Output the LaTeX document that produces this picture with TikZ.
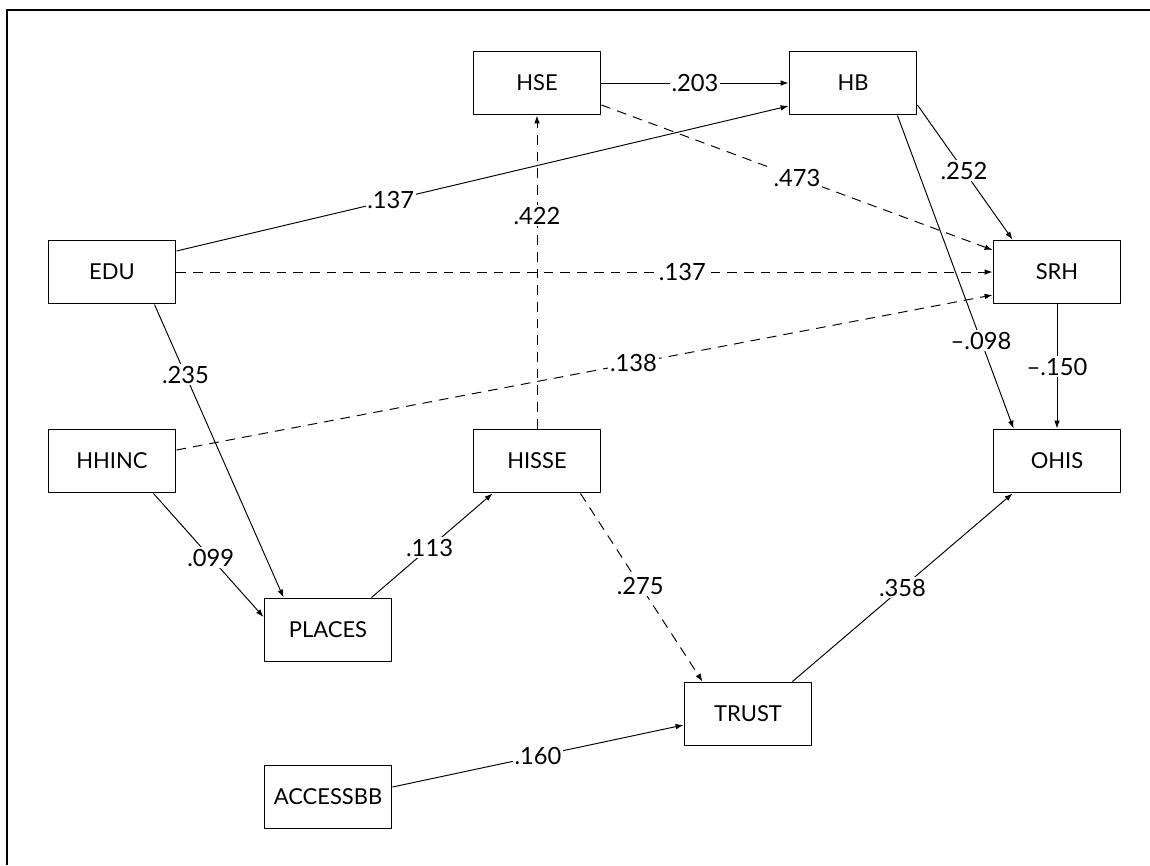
\documentclass[tikz,border=0pt]{standalone}
\usepackage{fontspec}
\setmainfont{Lato}
\usetikzlibrary{arrows.meta,calc}

\begin{document}
\begin{tikzpicture}[x=0.2mm, y=-0.2mm, line join=round, >={Latex[length=4.5pt,width=3.2pt]},
	var/.style={draw, line width=1.1pt, minimum width=25.4mm, minimum height=12.6mm, inner sep=0pt, font=\fontsize{12.5}{14}\selectfont},
	arr/.style={->, line width=0.55pt},
	darr/.style={arr, dash pattern=on 5.5pt off 4pt},
	coef/.style={fill=white, inner sep=1pt, font=\fontsize{13.5}{15}\selectfont}]
	\useasboundingbox (0,0) rectangle (1150,865);
	% 1. Khung
	\draw[line width=1.1pt] (7,865) -- (7,10) -- (1150,10);
	% 2. Các biến
	\node[var] (HSE) at (537,83) {HSE};
	\node[var] (HB) at (853,83) {HB};
	\node[var] (EDU) at (112,272) {EDU};
	\node[var] (SRH) at (1057,272) {SRH};
	\node[var] (HHINC) at (112,461) {HHINC};
	\node[var] (HISSE) at (537,461) {HISSE};
	\node[var] (OHIS) at (1057,461) {OHIS};
	\node[var] (PLACES) at (328,630) {PLACES};
	\node[var] (TRUST) at (748,714) {TRUST};
	\node[var] (ACCESSBB) at (328,797) {ACCESSBB};
	% 3. Các đường dẫn
	\draw[arr] (HSE.east) -- node[coef] {.203} (HB.west);
	\draw[arr] ($(EDU.east)+(0,-21)$) -- node[coef, pos=0.35] {.137} ($(HB.west)+(0,23)$);
	\draw[darr] ($(HSE.east)+(0,22)$) -- node[coef, pos=0.5] {.473} ($(SRH.west)+(0,-22)$);
	\draw[darr] (HISSE.north) -- node[coef, pos=0.68] {.422} (HSE.south);
	\draw[darr] (EDU.east) -- node[coef, pos=0.62] {.137} (SRH.west);
	\draw[darr] ($(HHINC.east)+(0,-11)$) -- node[coef, pos=0.56] {.138} ($(SRH.west)+(0,23)$);
	\draw[arr] ($(EDU.south east)+(-22,0)$) -- node[coef, pos=0.24] {.235} ($(PLACES.north west)+(20,0)$);
	\draw[arr] ($(HHINC.south east)+(-23,0)$) -- node[coef, pos=0.52] {.099} ($(PLACES.west)+(0,-13)$);
	\draw[arr] ($(PLACES.north east)+(-21,0)$) -- node[coef, pos=0.48] {.113} ($(HISSE.south west)+(20,0)$);
	\draw[darr] ($(HISSE.south east)+(-21,0)$) -- node[coef, pos=0.49] {.275} ($(TRUST.north west)+(19,0)$);
	\draw[arr] ($(TRUST.north east)+(-20,0)$) -- node[coef, pos=0.5] {.358} ($(OHIS.south west)+(20,0)$);
	\draw[arr] ($(ACCESSBB.east)+(0,-10)$) -- node[coef, pos=0.5] {.160} ($(TRUST.west)+(0,11)$);
	\draw[arr] ($(HB.east)+(0,22)$) -- node[coef, pos=0.49] {.252} ($(SRH.north west)+(20,0)$);
	\draw[arr] ($(HB.south east)+(-20,0)$) -- node[coef, pos=0.72] {–.098} ($(OHIS.north west)+(21,0)$);
	\draw[arr] (SRH.south) -- node[coef] {–.150} (OHIS.north);
\end{tikzpicture}
\end{document}
